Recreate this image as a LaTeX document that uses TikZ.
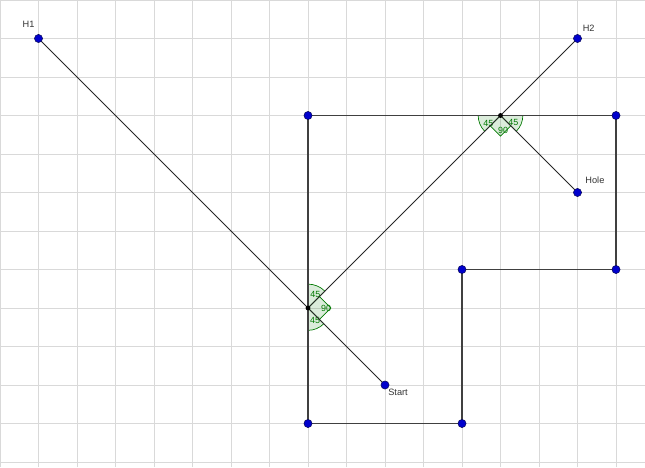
\documentclass[tikz,border=0pt]{standalone}
\usepackage{fontspec}
\setsansfont{Liberation Sans}
\usetikzlibrary{positioning}

\definecolor{ptblue}{RGB}{0,0,205}
\definecolor{ptedge}{RGB}{10,10,90}
\definecolor{anggreen}{RGB}{0,120,0}

\begin{document}
\begin{tikzpicture}[
    gridline/.style={draw=black!15, line width=0.7pt},
    wall/.style={draw=black!75, line width=0.8pt},
    ray/.style={draw=black!85, line width=0.6pt},
    pt/.style={circle, draw=ptedge, fill=ptblue, line width=0.4pt, inner sep=0pt, minimum size=6pt},
    refl/.style={circle, fill=black, inner sep=0pt, minimum size=3.6pt},
    ang/.style={draw=anggreen, fill=anggreen, fill opacity=0.14, line width=0.5pt},
    anglbl/.style={text=anggreen, font=\sffamily\fontsize{6.6}{7.5}\selectfont, inner sep=0pt},
    lbl/.style={font=\sffamily\fontsize{6.8}{8}\selectfont, text=black!80, inner sep=0pt}
]
\useasboundingbox (0,0) rectangle (16.753,-12.13);

% Grid
\draw[gridline, step=1] (0,-12.13) grid (16.753,0);

% Define nodes
\coordinate (c1) at (8,-3);
\coordinate (c2) at (16,-3);
\coordinate (c3) at (16,-7);
\coordinate (c4) at (12,-7);
\coordinate (c5) at (12,-11);
\coordinate (c6) at (8,-11);
\coordinate (p1) at (8,-8);
\coordinate (p2) at (13,-3);
\coordinate (h1pos) at (1,-1);
\coordinate (h2pos) at (15,-1);
\coordinate (holepos) at (15,-5);
\coordinate (startpos) at (10,-10);

% Angles at the reflection points
\filldraw[ang] (p1) -- ++(90:0.62) arc[start angle=90, end angle=45, radius=0.62] -- cycle;
\filldraw[ang] (p1) -- ++(-45:0.58) arc[start angle=-45, end angle=-90, radius=0.58] -- cycle;
\filldraw[ang] (p1) -- ++(45:0.42) -- ++(-45:0.42) -- ++(-135:0.42) -- cycle;
\filldraw[ang] (p2) -- ++(180:0.58) arc[start angle=180, end angle=225, radius=0.58] -- cycle;
\filldraw[ang] (p2) -- ++(-45:0.58) arc[start angle=-45, end angle=0, radius=0.58] -- cycle;
\filldraw[ang] (p2) -- ++(225:0.38) -- ++(-45:0.38) -- ++(45:0.38) -- cycle;

\node[anglbl] (a1) at ([shift={(62:0.41)}]p1) {45};
\node[anglbl] (a2) at ([shift={(0:0.47)}]p1) {90};
\node[anglbl] (a3) at ([shift={(-60:0.37)}]p1) {45};
\node[anglbl] (a4) at ([shift={(212:0.37)}]p2) {45};
\node[anglbl] (a5) at ([shift={(-80:0.4)}]p2) {90};
\node[anglbl] (a6) at ([shift={(-28:0.38)}]p2) {45};

% Connect nodes
\draw[wall] (c1) -- (c2) -- (c3) -- (c4) -- (c5) -- (c6) -- cycle;
\draw[ray] (h1pos) -- (startpos);
\draw[ray] (p1) -- (h2pos);
\draw[ray] (p2) -- (holepos);

% Points
\node[refl] (r1) at (p1) {};
\node[refl] (r2) at (p2) {};
\foreach \c in {c1,c2,c3,c4,c5,c6}
    \node[pt] (d\c) at (\c) {};
\node[pt] (h1) at (h1pos) {};
\node[pt] (h2) at (h2pos) {};
\node[pt] (hole) at (holepos) {};
\node[pt] (start) at (startpos) {};

% Labels
\node[lbl, above left=0.2 and 0.02 of h1] (h1text) {H1};
\node[lbl, above right=0.1 and 0.05 of h2] (h2text) {H2};
\node[lbl, above right=0.15 and 0.12 of hole] (holetext) {Hole};
\node[lbl, below right=0.01 and 0.0 of start] (starttext) {Start};

\end{tikzpicture}
\end{document}
